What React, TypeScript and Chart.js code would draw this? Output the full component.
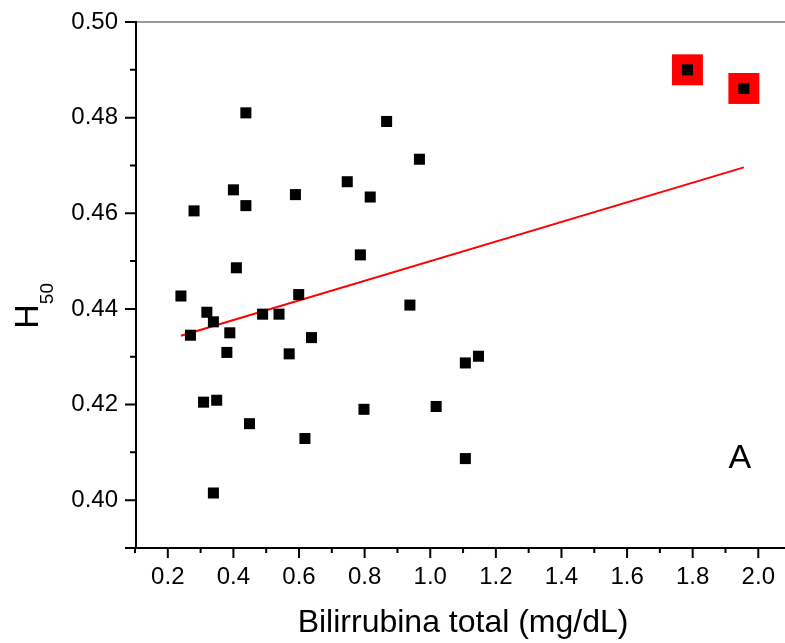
import React, { useEffect, useRef } from "react";
import { Chart, registerables } from "chart.js";

Chart.register(...registerables);

// Bilirrubina total (mg/dL) vs H50
const bilirrubina = [
  0.438, 0.867, 0.747, 0.400, 0.589, 0.817, 0.438, 0.280, 0.787, 0.409,
  0.240, 0.599, 0.319, 0.489, 0.539, 0.339, 0.269, 0.389, 0.380, 0.570,
  0.638, 0.309, 0.349, 0.449, 0.618, 0.798, 0.339, 0.967, 0.938, 1.784,
  1.956, 1.107, 1.147, 1.018, 1.107,
];
const h50 = [
  0.4810, 0.4792, 0.4666, 0.4649, 0.4639, 0.4634, 0.4616, 0.4605, 0.4513, 0.4486,
  0.4427, 0.4430, 0.4393, 0.4389, 0.4389, 0.4373, 0.4345, 0.4350, 0.4309, 0.4306,
  0.4340, 0.4205, 0.4209, 0.4160, 0.4129, 0.4190, 0.4015, 0.4713, 0.4408, 0.4900,
  0.4861, 0.4287, 0.4301, 0.4196, 0.4087,
];
// highlighted points
const destacadosX = [1.784, 1.956];
const destacadosY = [0.49, 0.4861];
// linear fit
const ajusteX = [0.24, 1.956];
const ajusteY = [0.4344, 0.4696];

const xMajorTicks = [0.2, 0.4, 0.6, 0.8, 1.0, 1.2, 1.4, 1.6, 1.8, 2.0];
const yMajorTicks = [0.39, 0.4, 0.42, 0.44, 0.46, 0.48, 0.5];
const yLabelTicks = [0.4, 0.42, 0.44, 0.46, 0.48, 0.5];
const xTitle = "Bilirrubina total (mg/dL)";
const yTitleMain = "H";
const yTitleSub = "50";
const panelLabel = "A";
const panelLabelX = 1.944;
const panelLabelY = 0.4067;

const FONT = "'Liberation Sans', Arial, Helvetica, sans-serif";

const isIn = (arr: number[], v: number) => arr.some((m) => Math.abs(m - v) < 1e-6);

const zeroPadding = (scale: any) => {
  scale.paddingTop = 0;
  scale.paddingBottom = 0;
  scale.paddingLeft = 0;
  scale.paddingRight = 0;
};

const decorPlugin = {
  id: "decorPlugin",
  afterDraw(chart: any) {
    const { ctx, chartArea, scales } = chart;
    const xs = scales.x;
    const ys = scales.y;
    const W = chart.width;
    ctx.save();
    // top frame line (grey)
    ctx.strokeStyle = "#777777";
    ctx.lineWidth = 1.5;
    ctx.beginPath();
    ctx.moveTo(chartArea.left, chartArea.top);
    ctx.lineTo(W, chartArea.top);
    ctx.stroke();

    // axis lines
    ctx.strokeStyle = "#000";
    ctx.lineWidth = 2;
    ctx.beginPath();
    ctx.moveTo(chartArea.left + 1, chartArea.top - 1);
    ctx.lineTo(chartArea.left + 1, chartArea.bottom + 1);
    ctx.moveTo(chartArea.left, chartArea.bottom);
    ctx.lineTo(W, chartArea.bottom);
    ctx.stroke();

    // tick marks
    ctx.beginPath();
    ys.ticks.forEach((t: any) => {
      const py = ys.getPixelForValue(t.value);
      const len = isIn(yMajorTicks, t.value) ? 10 : 5;
      ctx.moveTo(chartArea.left, py);
      ctx.lineTo(chartArea.left - len, py);
    });
    xs.ticks.forEach((t: any) => {
      const px = xs.getPixelForValue(t.value);
      const len = isIn(xMajorTicks, t.value) ? 10 : 5;
      ctx.moveTo(px, chartArea.bottom);
      ctx.lineTo(px, chartArea.bottom + len);
    });
    ctx.stroke();

    // y title: H with subscript 50, rotated
    ctx.save();
    ctx.translate(chartArea.left - 97, chartArea.top + 306.7);
    ctx.rotate(-Math.PI / 2);
    ctx.fillStyle = "#000";
    ctx.textAlign = "left";
    ctx.textBaseline = "alphabetic";
    ctx.font = `34px ${FONT}`;
    ctx.fillText(yTitleMain, 0, 0);
    const hw = ctx.measureText(yTitleMain).width;
    ctx.font = `19px ${FONT}`;
    ctx.fillText(yTitleSub, hw, 14.7);
    ctx.restore();

    // panel label
    ctx.fillStyle = "#000";
    ctx.font = `34px ${FONT}`;
    ctx.textAlign = "center";
    ctx.textBaseline = "alphabetic";
    ctx.fillText(panelLabel, xs.getPixelForValue(panelLabelX), ys.getPixelForValue(panelLabelY));
    ctx.restore();
  },
};

export default function App() {
  const ref = useRef<HTMLCanvasElement | null>(null);

  useEffect(() => {
    if (!ref.current) return;
    const points = bilirrubina.map((x, i) => ({ x, y: h50[i] }));
    const highlight = destacadosX.map((x, i) => ({ x, y: destacadosY[i] }));
    const fit = ajusteX.map((x, i) => ({ x, y: ajusteY[i] }));

    const chart = new Chart(ref.current, {
      type: "scatter",
      data: {
        datasets: [
          {
            label: "H50",
            data: points,
            pointStyle: "rect",
            pointRadius: 7.8,
            pointHoverRadius: 7.8,
            backgroundColor: "#000000",
            borderWidth: 0,
          },
          {
            label: "fit",
            data: fit,
            showLine: true,
            borderColor: "#ff0000",
            borderWidth: 2,
            pointRadius: 0,
            pointHoverRadius: 0,
            fill: false,
          },
          {
            label: "highlight",
            data: highlight,
            pointStyle: "rect",
            pointRadius: 21.9,
            pointHoverRadius: 21.9,
            backgroundColor: "#ff0000",
            borderWidth: 0,
          },
        ],
      },
      options: {
        responsive: false,
        animation: false,
        devicePixelRatio: 1,
        layout: { padding: { top: 22, right: 9, left: 0, bottom: 0 } },
        plugins: {
          legend: { display: false },
          tooltip: { enabled: false },
        },
        events: [],
        scales: {
          x: {
            type: "linear",
            min: 0.1,
            max: 2.1,
            grid: { display: false, drawTicks: false },
            border: { display: false },
            ticks: {
              stepSize: 0.1,
              autoSkip: false,
              maxRotation: 0,
              minRotation: 0,
              padding: 15,
              color: "#000",
              font: { family: FONT, size: 24 },
              callback: (v: any) => (isIn(xMajorTicks, Number(v)) ? Number(v).toFixed(1) : ""),
            },
            title: {
              display: true,
              text: xTitle,
              color: "#000",
              font: { family: FONT, size: 32 },
              padding: { top: 0, bottom: 1 },
            },
            afterFit: (scale: any) => {
              scale.height = 95;
              zeroPadding(scale);
            },
          },
          y: {
            type: "linear",
            min: 0.39,
            max: 0.5,
            grid: { display: false, drawTicks: false },
            border: { display: false },
            ticks: {
              stepSize: 0.01,
              autoSkip: false,
              padding: 17,
              color: "#000",
              font: { family: FONT, size: 24 },
              callback: (v: any) => (isIn(yLabelTicks, Number(v)) ? Number(v).toFixed(2) : ""),
            },
            afterFit: (scale: any) => {
              scale.width = 135;
              zeroPadding(scale);
            },
          },
        },
      },
      plugins: [decorPlugin],
    });
    return () => chart.destroy();
  }, []);

  return (
    <div
      style={{
        position: "fixed",
        left: 0,
        top: 0,
        width: 785,
        height: 643,
        overflow: "hidden",
        background: "#fff",
      }}
    >
      <canvas ref={ref} width={813} height={643} style={{ display: "block", width: 813, height: 643 }} />
    </div>
  );
}
